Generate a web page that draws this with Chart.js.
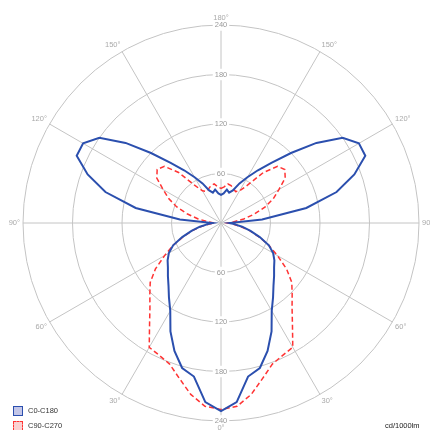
<!DOCTYPE html>
<html><head><meta charset="utf-8">
<script src="https://cdn.jsdelivr.net/npm/chart.js@4.4.1/dist/chart.umd.min.js"></script>
<style>
html,body{margin:0;padding:0;background:#fff;}
#wrap{position:relative;width:430px;height:430px;overflow:hidden;}
canvas{position:absolute;left:0;top:0;}
.lg{position:absolute;font:7.5px "Liberation Sans",Arial,sans-serif;color:#333;white-space:nowrap;line-height:10px;}
.box{position:absolute;width:8px;height:8px;}
</style></head>
<body><div id="wrap"><canvas id="c" width="430" height="430"></canvas>
<div class="box" style="left:13px;top:406px;background:#c3c6e8;border:1.5px solid #2b4fae;"></div>
<div class="lg" style="left:28px;top:406px;">C0-C180</div>
<div class="box" style="left:13px;top:421px;background:#fbd2d2;border:1.5px dashed #ff3333;"></div>
<div class="lg" style="left:28px;top:421px;">C90-C270</div>
<div class="lg" style="left:385px;top:421px;color:#222;">cd/1000lm</div>
</div>
<script>
// gamma angles (degrees), 0 = straight down, 180 = straight up
const angles = [0,5,10,15,20,25,30,35,40,45,50,55,60,65,70,75,80,85,90,95,100,105,110,115,120,125,130,135,140,145,150,155,160,165,170,175,180];
// C0-C180 plane (blue), right half C0, left half C180
const c0   = [228,218,189,182,165,145,123,110,99,91,84,79,73,64,50,37,26,16,10,50,105,145,172,193,193,180,151,120,95,78,64,53,42,38,41,36,34];
const c180 = [228,218,189,182,165,145,123,110,99,91,84,79,73,64,50,37,26,16,10,50,105,145,172,193,193,180,151,120,95,78,64,53,42,38,41,36,34];
// C90-C270 plane (red dashed)
const c90  = [226,223,211,195,182,177,174,151,134,122,112,97,79,64,49,36,24,14,8,15,28,42,57,70,81,95,101,97,80,56,45,42,44,47,48,44,42];
const c270 = [226,223,211,195,182,177,174,151,134,122,112,97,79,64,49,36,24,14,8,15,28,42,57,70,81,95,101,97,80,56,45,42,44,47,48,44,42];
const majorAngles = [0,30,60,90,120,150,180];
const tickValues = [60,120,180,240];
const seriesNames = ['C0-C180','C90-C270'];

// radar index i: 0 = top, clockwise. Right half i=0..36 -> gamma 180-5i ; left half i=37..71 -> gamma 5i-180
const N = 72;
const labels = [], blue = [], red = [];
for (let i = 0; i < N; i++) {
  if (i <= 36) {
    const k = 36 - i;
    labels.push(angles[k]); blue.push(c0[k]); red.push(c90[k]);
  } else {
    const k = i - 36;
    labels.push(angles[k]); blue.push(c180[k]); red.push(c270[k]);
  }
}
const FONT = '"Liberation Sans", Arial, sans-serif';
const isMajor = i => majorAngles.includes(labels[i]);

const polarLabels = {
  id: 'polarLabels',
  beforeDatasetsDraw(chart) {
    const s = chart.scales.r, ctx = chart.ctx;
    ctx.save();
    ctx.font = '7.5px ' + FONT;
    ctx.textAlign = 'center'; ctx.textBaseline = 'middle';
    tickValues.forEach(v => {
      const d = s.getDistanceFromCenterForValue(v);
      const t = String(v), w = ctx.measureText(t).width, y = s.yCenter + d;
      ctx.fillStyle = '#fff';
      ctx.fillRect(s.xCenter - w / 2 - 2, y - 3.75 - 2, w + 4, 7.5 + 4);
      ctx.fillStyle = '#999';
      ctx.fillText(t, s.xCenter, y);
    });
    ctx.fillStyle = '#aaa';
    labels.forEach((g, i) => {
      if (!isMajor(i)) return;
      const p = s.getPointPosition(i, s.drawingArea + 3);
      let deg = Math.round(s.getIndexAngle(i) * 180 / Math.PI) % 360; if (deg < 0) deg += 360;
      ctx.textAlign = (deg === 0 || deg === 180) ? 'center' : (deg < 180 ? 'left' : 'right');
      ctx.textBaseline = (deg === 90 || deg === 270) ? 'middle' : ((deg < 90 || deg > 270) ? 'bottom' : 'top');
      ctx.fillText(g + '°', p.x, p.y);
    });
    ctx.restore();
  }
};

new Chart(document.getElementById('c'), {
  type: 'radar',
  data: {
    labels: labels,
    datasets: [
      { label: seriesNames[0], data: blue, borderColor: '#2b4fae', borderWidth: 2, fill: false, pointRadius: 0, backgroundColor: '#c3c6e8' },
      { label: seriesNames[1], data: red, borderColor: '#ff3333', borderWidth: 1.5, borderDash: [5, 3], fill: false, pointRadius: 0, backgroundColor: '#fbd2d2' }
    ]
  },
  options: {
    responsive: false, animation: false,
    layout: { padding: { left: 17, right: 5, top: 19, bottom: 3 } },
    plugins: { legend: { display: false }, tooltip: { enabled: false } },
    elements: { line: { tension: 0 }, point: { radius: 0, hitRadius: 0 } },
    scales: {
      r: {
        min: 0, max: 240, startAngle: 0,
        ticks: { stepSize: 60, font: { size: 7.5, family: FONT }, color: '#999', showLabelBackdrop: true, backdropColor: '#fff', backdropPadding: 2 },
        grid: { circular: true, color: '#c4c4c4', lineWidth: 1 },
        angleLines: { display: true, color: '#c4c4c4', lineWidth: c => isMajor(c.index) ? 1 : 0 },
        pointLabels: { display: false }
      }
    }
  },
  plugins: [polarLabels]
});
</script>
</body></html>
